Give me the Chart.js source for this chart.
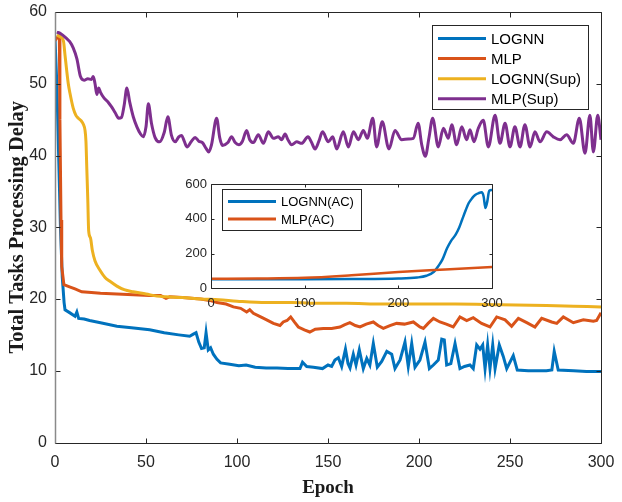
<!DOCTYPE html>
<html>
<head>
<meta charset="utf-8">
<script src="https://cdn.jsdelivr.net/npm/chart.js@4.4.0/dist/chart.umd.min.js"></script>
<style>
    body { margin: 0; background: #fff; }
    #wrap { position: relative; width: 622px; height: 502px; }
    canvas { position: absolute; left: 0; top: 0; }
    #inset { pointer-events: none; }
</style>
</head>
<body>
<div id="wrap">
    <canvas id="graph" width="622" height="502"></canvas>
    <canvas id="inset" width="622" height="502"></canvas>
</div>
<script>
// main plot
const labels = ['LOGNN', 'MLP', 'LOGNN(Sup)', 'MLP(Sup)']
const colors = ['#0072BD', '#D95319', '#EDB120', '#7E2F8E']

const lognnEpoch = [0, 1, 2, 3, 4, 5, 5.5, 8, 11, 12, 13, 16, 19, 25, 34, 42, 52, 60, 68, 74, 76, 77.5, 79, 80.5, 82, 83, 84.2, 85.5, 87, 89, 91, 96, 101, 105, 110, 116, 122, 128, 134.6, 136, 138.3, 142, 147, 150, 152, 153.8, 155.7, 157.5, 159.6, 161, 162.1, 163.9, 165.4, 167.2, 169.4, 171.3, 173, 174.9, 177.1, 179.5, 182.3, 185, 186.8, 189.6, 192.3, 194.1, 196, 197.8, 200.5, 203.3, 205.7, 207.9, 210.6, 212.5, 213.9, 215.2, 217.5, 219.8, 222.5, 225, 228, 229.8, 231.7, 233.5, 235, 236.3, 237.7, 239, 240.5, 241.8, 244.1, 246.3, 248.2, 251.8, 254, 260, 270, 273, 274.3, 276.5, 285, 292, 300]
const lognnDelay = [56.3, 50, 40, 30, 23, 19.5, 18.5, 18.1, 17.6, 18.2, 17.3, 17.2, 17, 16.7, 16.2, 16, 15.7, 15.3, 15, 14.8, 15.1, 15.3, 14, 13.1, 13.2, 15.3, 12.9, 13.2, 12.3, 11.6, 11.1, 10.9, 10.7, 10.8, 10.5, 10.4, 10.4, 10.3, 10.3, 11.2, 10.6, 10.5, 10.3, 10.8, 10.6, 11.5, 11.8, 10.6, 13, 11, 10.4, 12.3, 10.8, 12.9, 10.3, 11.7, 10.8, 13.8, 10.5, 11.3, 12.7, 12.3, 10.3, 11.5, 14, 10.6, 13.8, 10.5, 11.5, 14, 10.3, 10.8, 11.5, 14.4, 14.3, 10.8, 11, 13.8, 10.3, 10.6, 10.8, 10.3, 13.6, 13, 13.6, 10.3, 13.6, 10.3, 13.6, 10.3, 13.6, 12, 10.3, 12.1, 10.1, 10, 10, 10.1, 12.7, 10.1, 10, 9.9, 9.9]

const mlpEpoch = [0, 1, 2.4, 2.7, 3.3, 3.7, 4.9, 8, 11, 14.7, 20, 25, 34, 43, 52, 58, 61, 63, 70, 80, 85, 89, 94, 98, 102, 105.3, 107, 109, 113, 116.3, 120, 123.6, 125.4, 127.5, 129.5, 131.5, 133.7, 137, 140, 143, 147.4, 152, 156.6, 159, 162, 165, 167.6, 171, 174.9, 177.5, 180.4, 184, 187.7, 192, 196.9, 200.5, 202.4, 205, 207.9, 211.5, 215, 218.8, 222.5, 226.2, 229.8, 234.4, 239, 242.7, 247.3, 250.9, 254.6, 259.2, 263.7, 267.4, 272.9, 275.7, 279.3, 284.8, 290.3, 295.8, 297.6, 300]
const mlpDelay = [56, 56.4, 56.7, 45, 31, 24.5, 22, 21.7, 21.4, 21, 20.9, 20.8, 20.7, 20.6, 20.5, 20.5, 20.1, 20.3, 20.2, 20, 19.8, 19.5, 19.3, 18.9, 18.7, 18.2, 18.5, 18, 17.5, 17.1, 16.6, 16.3, 16.8, 17, 17.5, 16.8, 16.1, 15.7, 15.4, 15.8, 15.9, 15.9, 16.1, 16.4, 16.7, 16.3, 16.1, 16.5, 16.8, 16.3, 15.9, 16.3, 16.6, 16.5, 16.8, 16.1, 15.9, 16.6, 17.3, 16.8, 16.5, 16.1, 17.5, 17, 17.4, 16.6, 16.1, 17.5, 17.1, 16.2, 17.3, 16.7, 16.1, 17.3, 16.8, 16.6, 17.5, 16.7, 17.1, 16.9, 17, 18.1]

const lognnSupEpoch = [1, 3, 4.6, 5.5, 6.4, 7.3, 8.2, 10, 11.5, 12.8, 14.5, 15.5, 16.5, 17, 17.5, 18, 18.5, 19.5, 20.5, 22, 24.7, 27.5, 30, 34, 38, 43, 50, 56, 61, 70, 80, 90, 100, 116, 130, 146, 160, 180, 200, 220, 245, 270, 285, 300]
const lognnSupDelay = [56.8, 56.5, 56, 54, 51.9, 50, 48.7, 46.6, 45.6, 45.2, 44.8, 44.4, 43.5, 42, 38, 34, 29.5, 28.5, 26.8, 25.3, 24, 23, 22.5, 21.8, 21.3, 21, 20.7, 20.4, 20.3, 20.2, 20, 19.9, 19.7, 19.5, 19.5, 19.4, 19.4, 19.3, 19.3, 19.3, 19.2, 19.1, 19, 18.9]

const mlpSupEpoch = [1, 3, 6, 8, 10, 12, 14, 16, 18, 20, 21, 22, 23, 24, 25, 27, 29, 31, 33, 35, 36.5, 38, 39.5, 41, 43, 45, 47, 48.5, 50, 51.3, 53, 55, 57.5, 60, 62, 64, 66, 68, 69.5, 71, 72.5, 75, 77, 79, 81, 83, 84.5, 86, 88.8, 90.5, 92, 95, 97, 99, 101, 103, 105.3, 107, 109, 111.7, 114.5, 117.2, 120, 122.7, 124.5, 126.4, 128, 130, 132.8, 135.5, 139, 141, 142.9, 145, 147, 150.2, 152.6, 154.8, 158.4, 161.2, 164, 166.7, 169.4, 171.6, 174.6, 176.7, 179.8, 183.5, 186.8, 190.5, 194.1, 196.9, 199.5, 201.5, 203.5, 205.5, 207.5, 210.6, 213.4, 216.1, 218, 220.7, 223.5, 226.2, 228, 230.2, 232.6, 235.3, 238.1, 241.8, 244.5, 247.3, 250, 252.7, 255.5, 258.2, 261, 263.7, 266.5, 270.2, 273.8, 277.5, 281.1, 284.8, 288.1, 291.2, 293.9, 295.8, 298.2, 300]
const mlpSupDelay = [57.2, 57, 56.4, 55.9, 55, 53.5, 51, 50.5, 50.7, 50.6, 51, 50, 48.5, 49.4, 48.8, 48, 47.5, 46.8, 46, 45.2, 45.3, 47, 49.4, 47.5, 45.4, 44, 43, 42.6, 44, 47.2, 44.5, 42.5, 41.9, 43.2, 45.4, 42.8, 41.9, 42.6, 42.8, 42, 41.2, 42, 42.5, 42, 41.8, 41, 40.5, 41.5, 45.2, 42.5, 41.4, 41.8, 42.6, 41.8, 41.5, 42, 43.5, 42.2, 41.8, 42.9, 41.7, 43.3, 42.4, 42.6, 42.2, 43, 42.2, 41.5, 41.9, 41.7, 42.6, 41.8, 40.9, 42, 43.3, 41.9, 42.6, 40.9, 43.3, 41.2, 43.3, 42.2, 43.5, 42.4, 45.2, 41.2, 44.7, 40.9, 43.5, 42.2, 42.3, 42.4, 44.5, 41.5, 39.9, 42.5, 45.2, 41.2, 43.8, 42.4, 44.3, 41.5, 44, 42.2, 43.6, 41.9, 43.8, 44.9, 41.2, 45.6, 41.7, 44.5, 41.2, 44, 41.2, 44.3, 41.2, 43.3, 41.9, 43.3, 42.6, 42.2, 42.9, 41.7, 45.2, 40.3, 45.6, 40.5, 45.6, 42.2]

const xTicks = [0, 50, 100, 150, 200, 250, 300]
const yTicks = [0, 10, 20, 30, 40, 50, 60]

// inset plot
const insetLabels = ['LOGNN(AC)', 'MLP(AC)']
const lognnAcEpoch = [0, 50, 100, 150, 200, 220, 230, 238, 243, 247, 252, 256, 261, 265, 268, 272, 275, 279, 282, 286, 289, 291, 293, 295, 297, 300]
const lognnAcValue = [52, 52, 52, 53, 56, 62, 72, 95, 130, 165, 230, 270, 307, 350, 393, 450, 489, 520, 537, 548, 552, 530, 462, 500, 561, 565]
const mlpAcEpoch = [0, 50, 100, 150, 200, 250, 300]
const mlpAcValue = [55, 56, 60, 75, 94, 108, 122]
const insetXTicks = [0, 100, 200, 300]
const insetYTicks = [0, 200, 400, 600]

const axisColor = '#262626'
const pts = (xs, ys) => xs.map((x, i) => ({x: x, y: ys[i]}))

// box + inward ticks like matlab
function boxPlugin(tickLen, leftColor) {
    return {
        id: 'box',
        beforeDraw(chart) {
            const a = chart.chartArea
            chart.ctx.save()
            chart.ctx.fillStyle = '#fff'
            chart.ctx.fillRect(a.left, a.top, a.right - a.left, a.bottom - a.top)
            chart.ctx.restore()
        },
        afterDatasetsDraw(chart) {
            const {ctx, chartArea: a} = chart
            const x = chart.scales.x, y = chart.scales.y
            const l = Math.round(a.left) + 0.5, t = Math.round(a.top) + 0.5
            const r = Math.round(a.right) + 0.5, b = Math.round(a.bottom) + 0.5
            ctx.save()
            ctx.strokeStyle = axisColor
            ctx.lineWidth = 1
            ctx.beginPath()
            x.ticks.forEach(tk => {
                const px = Math.round(x.getPixelForValue(tk.value)) + 0.5
                ctx.moveTo(px, b); ctx.lineTo(px, b - tickLen)
                ctx.moveTo(px, t); ctx.lineTo(px, t + tickLen)
            })
            y.ticks.forEach(tk => {
                const py = Math.round(y.getPixelForValue(tk.value)) + 0.5
                ctx.moveTo(l, py); ctx.lineTo(l + tickLen, py)
                ctx.moveTo(r, py); ctx.lineTo(r - tickLen, py)
            })
            ctx.moveTo(l, t); ctx.lineTo(r, t); ctx.lineTo(r, b); ctx.lineTo(l, b)
            ctx.stroke()
            ctx.strokeStyle = leftColor
            ctx.lineWidth = leftColor === axisColor ? 1 : 1.5
            ctx.beginPath()
            ctx.moveTo(l, t); ctx.lineTo(l, b)
            ctx.stroke()
            ctx.restore()
        }
    }
}

// legend box drawn inside the axes
function legendPlugin(opts) {
    return {
        id: 'boxLegend',
        afterDraw(chart) {
            const {ctx, chartArea: a} = chart
            const left = opts.right ? a.right - opts.right - opts.w : a.left + opts.left
            const top = a.top + opts.top
            ctx.save()
            ctx.fillStyle = '#fff'
            ctx.fillRect(left, top, opts.w, opts.h)
            ctx.strokeStyle = axisColor
            ctx.lineWidth = 1
            ctx.strokeRect(Math.round(left) + 0.5, Math.round(top) + 0.5, opts.w, opts.h)
            ctx.font = opts.font
            ctx.textBaseline = 'middle'
            ctx.fillStyle = '#000'
            opts.names.forEach((name, i) => {
                const ry = top + opts.first + i * opts.step
                ctx.strokeStyle = opts.colors[i]
                ctx.lineWidth = opts.lw
                ctx.beginPath()
                ctx.moveTo(left + 6, ry)
                ctx.lineTo(left + 6 + opts.line, ry)
                ctx.stroke()
                ctx.fillText(name, left + 11 + opts.line, ry + 1)
            })
            ctx.restore()
        }
    }
}

const mainSeries = [
    pts(lognnEpoch, lognnDelay),
    pts(mlpEpoch, mlpDelay),
    pts(lognnSupEpoch, lognnSupDelay),
    pts(mlpSupEpoch, mlpSupDelay)
]
const smooth = [false, false, true, true]

new Chart(document.getElementById('graph').getContext('2d'), {
    type: 'line',
    data: {
        datasets: mainSeries.map((d, i) => ({
            label: labels[i],
            data: d,
            borderColor: colors[i],
            borderWidth: 3,
            pointRadius: 0,
            tension: smooth[i] ? 0.4 : 0,
            cubicInterpolationMode: smooth[i] ? 'monotone' : 'default',
            order: 3 - i
        }))
    },
    options: {
        responsive: false,
        animation: false,
        layout: { padding: { left: 0, top: 12, right: 21, bottom: 0 } },
        plugins: { legend: { display: false }, tooltip: { enabled: false } },
        scales: {
            x: {
                type: 'linear', min: 0, max: 300,
                afterBuildTicks: s => { s.ticks = xTicks.map(v => ({value: v})) },
                afterFit: s => { s.height = 59.5 },
                grid: { display: false },
                border: { display: false },
                ticks: { color: axisColor, font: { family: 'Liberation Sans', size: 16 }, padding: 2, maxRotation: 0 },
                title: { display: true, text: 'Epoch', color: '#1a1a1a', font: { family: 'Liberation Serif', size: 19, weight: 'bold' }, padding: { top: 0, bottom: 3 } }
            },
            y: {
                min: 0, max: 60,
                afterBuildTicks: s => { s.ticks = yTicks.map(v => ({value: v})) },
                afterFit: s => { s.width = 55 },
                grid: { display: false, drawTicks: false },
                border: { display: false },
                ticks: { color: axisColor, font: { family: 'Liberation Sans', size: 16, lineHeight: 0.2 }, padding: 8 },
                title: { display: true, text: 'Total Tasks Processing Delay', color: '#1a1a1a', font: { family: 'Liberation Serif', size: 20.5, weight: 'bold' }, padding: { top: 5, bottom: 0 } }
            }
        }
    },
    plugins: [boxPlugin(5, '#8a8a8a'), legendPlugin({
        right: 13, top: 13, w: 156, h: 84, first: 13.5, step: 20.1,
        line: 48, lw: 3, font: '15px "Liberation Sans"', names: labels, colors: colors
    })]
})

new Chart(document.getElementById('inset').getContext('2d'), {
    type: 'line',
    data: {
        datasets: [
            { label: insetLabels[0], data: pts(lognnAcEpoch, lognnAcValue), borderColor: colors[0], borderWidth: 2.5, pointRadius: 0, tension: 0.4, cubicInterpolationMode: 'monotone', order: 1 },
            { label: insetLabels[1], data: pts(mlpAcEpoch, mlpAcValue), borderColor: colors[1], borderWidth: 2.5, pointRadius: 0, tension: 0.4, cubicInterpolationMode: 'monotone', order: 0 }
        ]
    },
    options: {
        responsive: false,
        animation: false,
        layout: { padding: { left: 171, top: 184, right: 130, bottom: 189.7 } },
        plugins: { legend: { display: false }, tooltip: { enabled: false } },
        scales: {
            x: {
                type: 'linear', min: 0, max: 300,
                afterBuildTicks: s => { s.ticks = insetXTicks.map(v => ({value: v})) },
                afterFit: s => { s.height = 24 },
                grid: { display: false, drawTicks: false },
                border: { display: false },
                ticks: { color: axisColor, font: { family: 'Liberation Sans', size: 13 }, padding: 7, maxRotation: 0 }
            },
            y: {
                min: 0, max: 600,
                afterBuildTicks: s => { s.ticks = insetYTicks.map(v => ({value: v})) },
                afterFit: s => { s.width = 40 },
                grid: { display: false, drawTicks: false },
                border: { display: false },
                ticks: { color: axisColor, font: { family: 'Liberation Sans', size: 13 }, padding: 4 }
            }
        }
    },
    plugins: [boxPlugin(3, axisColor), legendPlugin({
        left: 11, top: 5, w: 139, h: 41, first: 12.5, step: 17.6,
        line: 48, lw: 3, font: '13px "Liberation Sans"', names: insetLabels, colors: colors
    })]
})
</script>
</body>
</html>
